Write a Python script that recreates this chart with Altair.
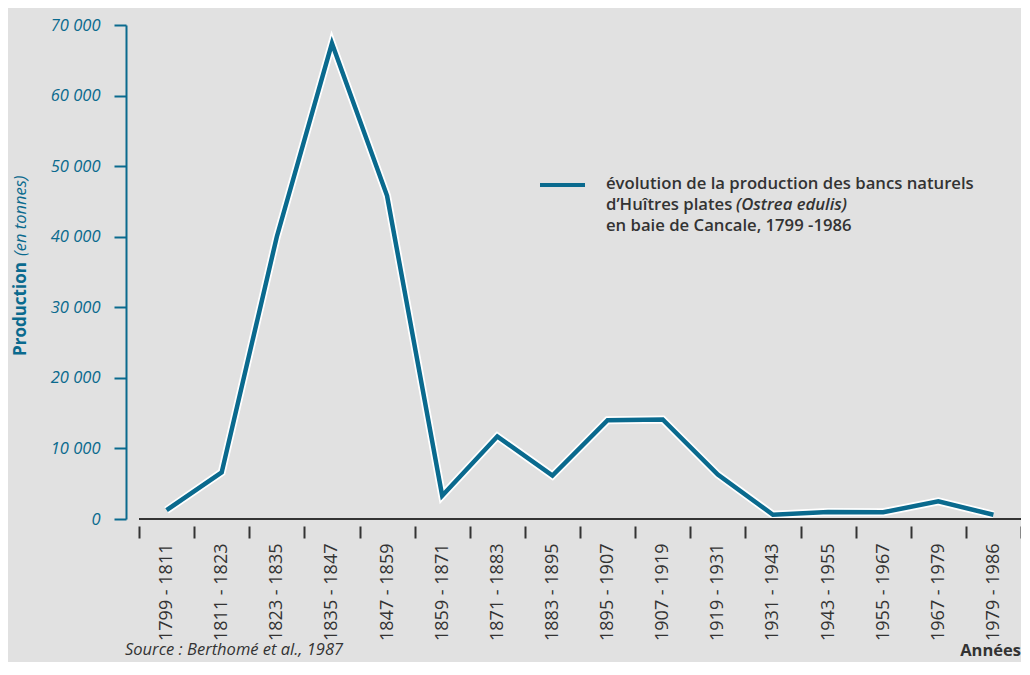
import altair as alt
import pandas as pd

periods = ["1799 - 1811", "1811 - 1823", "1823 - 1835", "1835 - 1847", "1847 - 1859",
           "1859 - 1871", "1871 - 1883", "1883 - 1895", "1895 - 1907", "1907 - 1919",
           "1919 - 1931", "1931 - 1943", "1943 - 1955", "1955 - 1967", "1967 - 1979",
           "1979 - 1986"]
production = [1250, 6600, 40000, 67400, 45800, 3300, 11700, 6150, 14000, 14100,
              6300, 600, 1000, 950, 2500, 600]
y_ticks = [0, 10000, 20000, 30000, 40000, 50000, 60000, 70000]

df = pd.DataFrame({"periode": periods, "production": production})

TEAL = "#0a6a8e"
DARK = "#333333"
BG = "#e1e1e1"
FONT = "Open Sans"
W, H = 882, 494

x_enc = alt.X("periode:N", sort=periods, bandPosition=0.5,
              scale=alt.Scale(type="band", paddingInner=0, paddingOuter=0),
              axis=alt.Axis(title=None, domain=False, offset=7, tickBand="extent",
                            tickSize=12, tickWidth=2, tickColor=DARK,
                            labelAngle=270, labelPadding=5, labelFontSize=18,
                            labelColor=DARK, labelFont=FONT))
y_enc = alt.Y("production:Q",
              scale=alt.Scale(domain=[0, 70000], nice=False),
              axis=alt.Axis(title=None, values=y_ticks, offset=13, grid=False,
                            domainColor=TEAL, domainWidth=2,
                            tickColor=TEAL, tickWidth=2, tickSize=12,
                            labelColor=TEAL, labelFontStyle="italic", labelFontSize=16.5,
                            labelFont=FONT, labelPadding=14,
                            labelExpr="replace(format(datum.value, ',d'), ',', ' ')"))

base = alt.Chart(df)

halo = base.mark_line(color="white", strokeWidth=8, strokeJoin="miter").encode(x=x_enc, y=y_enc)
line = base.mark_line(color=TEAL, strokeWidth=4.5, strokeJoin="miter").encode(x=x_enc, y=y_enc)

baseline = alt.Chart(pd.DataFrame({"z": [0]})).mark_rule(color=DARK, strokeWidth=2).encode(
    y=alt.datum(0))


def txt(s, x, y, size=16.7, weight="normal", style="normal", color=DARK, align="left", angle=0):
    return alt.Chart(pd.DataFrame({"t": [s]})).mark_text(
        font=FONT, fontSize=size, fontWeight=weight, fontStyle=style, color=color,
        align=align, baseline="middle", angle=angle
    ).encode(text="t:N", x=alt.value(x), y=alt.value(y))


legend_rule = alt.Chart(pd.DataFrame({"z": [0]})).mark_rule(color=TEAL, strokeWidth=4).encode(
    x=alt.value(401), x2=alt.value(446), y=alt.value(160))

annotations = [
    legend_rule,
    txt("évolution de la production des bancs naturels", 467, 159, weight=600),
    txt("d’Huîtres plates", 467, 180, weight=600),
    txt("(Ostrea edulis)", 597, 180, weight=600, style="italic"),
    txt("en baie de Cancale, 1799 -1986", 467, 201, weight=600),
    txt("Production", -118, 331, size=17, weight="bold", color=TEAL, angle=270),
    txt("(en tonnes)", -118, 231, size=16.5, style="italic", color=TEAL, angle=270),
    txt("Années", 882, 626, weight="bold", size=16.5, align="right"),
    txt("Source : Berthomé et al., 1987", -14, 625, style="italic", size=16.5),
]

chart = alt.layer(halo, line, baseline, *annotations).properties(
    width=W, height=H,
    autosize=alt.AutoSizeParams(type="none"),
    padding={"left": 131, "top": 17, "right": 0, "bottom": 143},
    background=BG,
).configure_view(stroke=None)

chart.save("out.html", embed_options={"renderer": "svg", "actions": False})
